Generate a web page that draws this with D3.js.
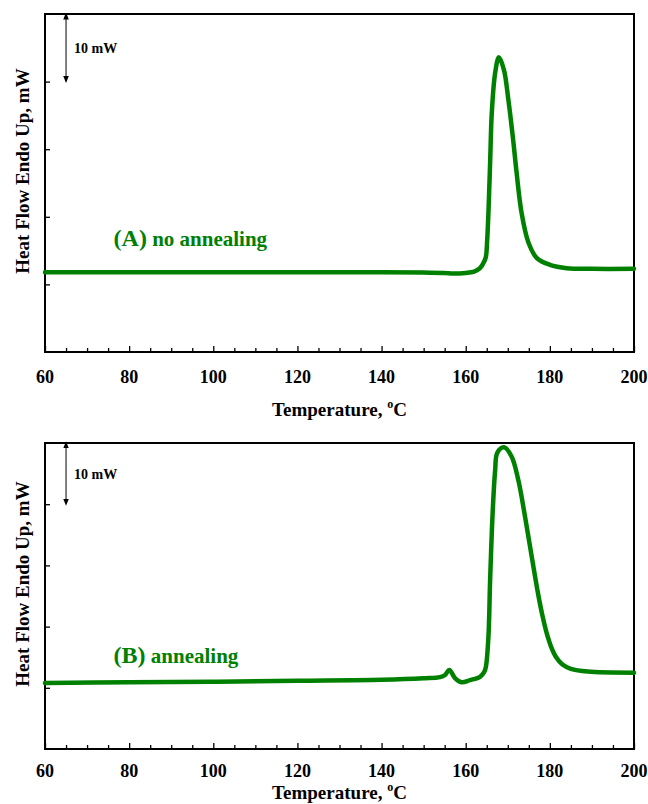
<!DOCTYPE html>
<html>
<head>
<meta charset="utf-8">
<script src="https://cdn.jsdelivr.net/npm/d3@7"></script>
<style>
  body { margin: 0; background: #fff; }
  svg text { font-family: 'Liberation Serif', 'Times New Roman', serif; font-weight: bold; }
</style>
</head>
<body>
<div id="chart"></div>
<script>
// temperature (°C) and heat flow (mW)
const tempA = [60, 100, 140, 150, 155, 157, 160, 162, 163.4, 164.4, 164.8, 165.1, 165.4, 165.8, 166.2, 167.0, 167.9, 169.1, 170.1, 171.2, 172.1, 173.3, 174.9, 176.9, 180, 184, 190, 200];
const flowA = [11.8, 11.8, 11.8, 11.75, 11.7, 11.6, 11.7, 11.9, 12.4, 13.4, 14.1, 16.5, 20.6, 28.0, 35.4, 41.3, 43.6, 41.7, 37.5, 31.8, 26.5, 20.5, 16.2, 13.9, 12.9, 12.4, 12.3, 12.3];

const tempB = [60, 80, 100, 120, 140, 150, 153.9, 155.1, 156.1, 157.5, 159.0, 161.0, 163.4, 164.4, 164.8, 165.4, 165.8, 166.4, 167.0, 167.5, 169.1, 170.9, 172.5, 174.1, 175.7, 177.3, 178.3, 179.3, 180.3, 181.5, 183, 185, 189, 200];
const flowB = [10.8, 10.9, 11.0, 11.15, 11.3, 11.55, 11.75, 12.1, 12.9, 11.55, 10.9, 11.25, 11.8, 12.6, 13.45, 18.35, 27.6, 38.6, 45.6, 48.4, 49.3, 47.8, 43.95, 37.96, 31.4, 25.0, 21.6, 18.8, 16.7, 15.0, 13.8, 13.1, 12.65, 12.47];

const xMajor = [60, 80, 100, 120, 140, 160, 180, 200];
const yTicks = [10, 20, 30, 40];
const panels = [
  { id: 'A', label: '(A)', text: ' no annealing', temp: tempA, flow: flowA },
  { id: 'B', label: '(B)', text: ' annealing', temp: tempB, flow: flowB }
];

const render = {};

render.panel = (svg, p, box) => {
  const { left, right, top, bottom, tickGap, titleGap, labelY } = box;
  const x = d3.scaleLinear().domain([60, 200]).range([left, right]);
  const y = d3.scaleLinear().domain([0, 50]).range([bottom, top]);
  const g = svg.append('g').attr('class', 'panel-' + p.id);

  // frame
  g.append('rect')
    .attr('x', left).attr('y', top)
    .attr('width', right - left).attr('height', bottom - top)
    .attr('fill', 'none').attr('stroke', '#000').attr('stroke-width', 2);

  // x axis ticks pointing inward
  const xAxis = d3.axisTop(x)
    .tickValues(d3.range(60, 201, 5))
    .tickSize(5)
    .tickFormat('');
  g.append('g')
    .attr('transform', `translate(0,${bottom})`)
    .call(xAxis)
    .call(s => s.select('.domain').remove())
    .call(s => s.selectAll('line').attr('stroke', '#000').attr('stroke-width', 1.3)
      .attr('y2', d => (d % 20 === 0 ? -6 : -4)));

  g.selectAll('.xlab')
    .data(xMajor)
    .enter().append('text')
    .attr('class', 'xlab')
    .attr('x', d => x(d))
    .attr('y', bottom + tickGap)
    .attr('text-anchor', 'middle')
    .attr('font-size', 18)
    .text(d => d);

  // y axis ticks, no labels
  const yAxis = d3.axisRight(y).tickValues(yTicks).tickSize(5).tickFormat('');
  g.append('g')
    .attr('transform', `translate(${left},0)`)
    .call(yAxis)
    .call(s => s.select('.domain').remove())
    .call(s => s.selectAll('line').attr('stroke', '#000').attr('stroke-width', 1.3));

  // axis titles
  const xt = g.append('text')
    .attr('x', (left + right) / 2)
    .attr('y', bottom + titleGap)
    .attr('text-anchor', 'middle')
    .attr('font-size', 19)
    .text('Temperature, ');
  xt.append('tspan').attr('font-size', 12).attr('dy', -8).text('o');
  xt.append('tspan').attr('dy', 8).text('C');

  g.append('text')
    .attr('transform', `translate(29,${(top + bottom) / 2 - 12}) rotate(-90)`)
    .attr('text-anchor', 'middle')
    .attr('font-size', 19)
    .text('Heat Flow Endo Up, mW');

  // 10 mW scale bar
  const bx = x(65);
  g.append('line')
    .attr('x1', bx).attr('x2', bx)
    .attr('y1', y(49.7)).attr('y2', y(40.3))
    .attr('stroke', '#000').attr('stroke-width', 1)
    .attr('marker-start', 'url(#arr)').attr('marker-end', 'url(#arr)');
  g.append('text')
    .attr('x', bx + 8)
    .attr('y', y(45) + 5)
    .attr('font-size', 14)
    .text('10 mW');

  // trace
  const pts = p.temp.map((t, i) => [t, p.flow[i]]);
  const line = d3.line()
    .x(d => x(d[0]))
    .y(d => y(d[1]))
    .curve(d3.curveCatmullRom.alpha(0.5));
  g.append('path')
    .datum(pts)
    .attr('d', line)
    .attr('fill', 'none')
    .attr('stroke', '#008000')
    .attr('stroke-width', 4.5)
    .attr('stroke-linejoin', 'round')
    .attr('stroke-linecap', 'round');

  const lab = g.append('text')
    .attr('x', x(76.3))
    .attr('y', labelY)
    .attr('fill', '#008000')
    .attr('font-size', 24)
    .text(p.label);
  lab.append('tspan').attr('font-size', 21).text(p.text);
};

render.drawChart = (id) => {
  d3.select(id).selectAll('svg').remove();
  const svg = d3.select(id).append('svg')
    .attr('width', 648)
    .attr('height', 804);

  svg.append('defs').append('marker')
    .attr('id', 'arr')
    .attr('viewBox', '0 0 10 10')
    .attr('refX', 5).attr('refY', 5)
    .attr('markerWidth', 7).attr('markerHeight', 7)
    .attr('orient', 'auto-start-reverse')
    .attr('markerUnits', 'userSpaceOnUse')
    .append('path')
    .attr('d', 'M0,1 L10,5 L0,9 Z')
    .attr('fill', '#000');

  render.panel(svg, panels[0], { left: 45, right: 634, top: 14, bottom: 352, tickGap: 31, titleGap: 64, labelY: 246 });
  render.panel(svg, panels[1], { left: 45, right: 634, top: 443, bottom: 749, tickGap: 28, titleGap: 50, labelY: 663 });
};

render.drawChart('#chart');
</script>
</body>
</html>
